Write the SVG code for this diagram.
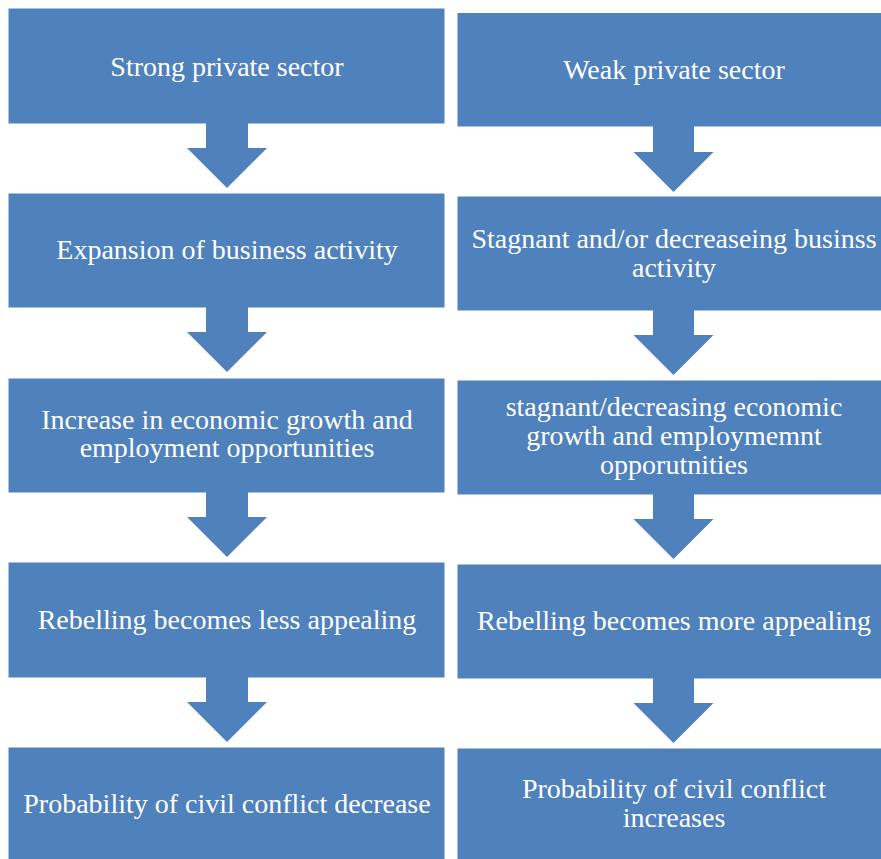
<svg xmlns="http://www.w3.org/2000/svg" width="881" height="859" viewBox="0 0 881 859">
<style>
.box{fill:#4F81BD;stroke:#FFFFFF;stroke-width:1}
.arr{fill:#4F81BD;stroke:none}
.t{font-family:"Liberation Serif","Times New Roman",serif;font-size:28px;fill:#FFFFFF;text-anchor:middle}
</style>
<rect width="881" height="859" fill="#FFFFFF"/>
<g id="L1"><rect class="box" x="8" y="8" width="437" height="116"/><text class="t" x="227" y="76">Strong private sector</text></g>
<g id="L2"><rect class="box" x="8" y="193" width="437" height="115"/><text class="t" x="227" y="259">Expansion of business activity</text></g>
<g id="L3"><rect class="box" x="8" y="378" width="437" height="115"/><text class="t" x="227" y="429">Increase in economic growth and</text><text class="t" x="227" y="457">employment opportunities</text></g>
<g id="L4"><rect class="box" x="8" y="562" width="437" height="116"/><text class="t" x="227" y="629">Rebelling becomes less appealing</text></g>
<g id="L5"><rect class="box" x="8" y="747" width="437" height="116"/><text class="t" x="227" y="813">Probability of civil conflict decrease</text></g>
<g id="R1"><rect class="box" x="457" y="12.5" width="434" height="114.5"/><text class="t" x="674" y="79">Weak private sector</text></g>
<g id="R2"><rect class="box" x="457" y="196" width="434" height="115"/><text class="t" x="674" y="248">Stagnant and/or decreaseing businss</text><text class="t" x="674" y="277">activity</text></g>
<g id="R3"><rect class="box" x="457" y="380" width="434" height="115"/><text class="t" x="674" y="416">stagnant/decreasing economic</text><text class="t" x="674" y="445">growth and employmemnt</text><text class="t" x="674" y="474">opporutnities</text></g>
<g id="R4"><rect class="box" x="457" y="564" width="434" height="115"/><text class="t" x="674" y="630">Rebelling becomes more appealing</text></g>
<g id="R5"><rect class="box" x="457" y="748" width="434" height="115"/><text class="t" x="674" y="798">Probability of civil conflict</text><text class="t" x="674" y="827">increases</text></g>
<g id="connectors">
<polygon class="arr" points="206,123 248,123 248,148 267,148 227,188 187,148 206,148"/>
<polygon class="arr" points="206,307 248,307 248,332 267,332 227,372 187,332 206,332"/>
<polygon class="arr" points="206,492 248,492 248,517 267,517 227,557 187,517 206,517"/>
<polygon class="arr" points="206,677 248,677 248,702 267,702 227,742 187,702 206,702"/>
<polygon class="arr" points="653,126 694,126 694,152 713.5,152 673.5,192 633.5,152 653,152"/>
<polygon class="arr" points="653,310 694,310 694,335 713.5,335 673.5,375 633.5,335 653,335"/>
<polygon class="arr" points="653,494 694,494 694,519 713.5,519 673.5,559 633.5,519 653,519"/>
<polygon class="arr" points="653,678 694,678 694,703 713.5,703 673.5,743 633.5,703 653,703"/>
</g>
</svg>
